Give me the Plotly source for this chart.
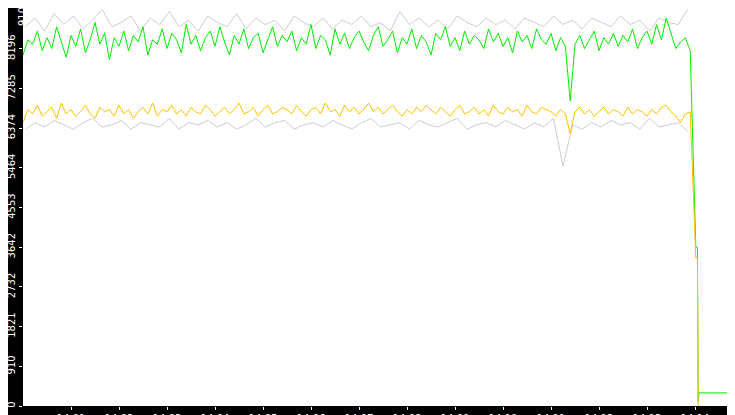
import plotly.graph_objects as go
import pandas as pd

green = [8050,8400,8300,8600,8150,8450,8200,8700,8350,8000,
8500,8250,8650,8100,8400,8800,8300,8550,7950,8450,
8250,8600,8150,8500,8350,8700,8050,8400,8300,8650,
8200,8550,8400,8100,8750,8300,8500,8150,8450,8600,
8250,8700,8350,8050,8500,8300,8650,8200,8450,8550,
8100,8400,8700,8250,8500,8350,8600,8150,8450,8300,
8750,8200,8500,8400,8050,8650,8300,8550,8200,8450,
8600,8350,8150,8500,8700,8250,8400,8600,8100,8450,
8300,8650,8200,8500,8350,8050,8550,8400,8700,8250,
8450,8150,8600,8300,8500,8400,8200,8650,8350,8550,
8250,8450,8100,8600,8350,8500,8200,8650,8400,8300,
8550,8150,8450,8250,7000,8300,8500,8200,8400,8600,
8150,8450,8300,8550,8250,8500,8350,8650,8200,8450,
8600,8300,8750,8400,8900,8550,8200,8350,8450,8150]
green_tail_t = ["14:14:01","14:14:03","14:14:04","14:14:05","14:15:00"]
green_tail = [3640, 3640, 100, 300, 300]

yellow = [6500,6800,6700,6900,6650,6750,6850,6600,6950,6700,
6800,6650,6750,6900,6700,6600,6850,6750,6800,6650,
6900,6700,6800,6600,6750,6850,6700,6950,6650,6800,
6750,6900,6700,6800,6650,6850,6750,6700,6900,6800,
6650,6750,6850,6700,6800,6950,6700,6750,6850,6650,
6800,6900,6700,6750,6850,6800,6700,6900,6750,6650,
6800,6850,6700,6950,6750,6800,6650,6900,6750,6850,
6700,6800,6950,6750,6850,6700,6800,6900,6750,6650,
6800,6700,6850,6750,6900,6800,6700,6850,6750,6650,
6800,6900,6700,6750,6850,6700,6800,6650,6900,6750,
6700,6850,6750,6800,6650,6900,6750,6700,6850,6800,
6750,6650,6800,6700,6250,6750,6850,6700,6800,6650,
6750,6850,6700,6800,6750,6650,6850,6700,6800,6750,
6650,6800,6700,6850,6900,6750,6650,6500,6700,6750]
yellow_tail_t = ["14:14:01","14:14:03","14:14:04"]
yellow_tail = [3400, 3400, 0]

gray_hi = [8700,8900,8600,9000,8750,8950,8650,8850,9100,8700,
8800,8950,8600,8900,8750,9050,8700,8850,8600,8950,
8800,8700,9000,8650,8900,8750,8850,8600,8950,8800,
8700,8900,8650,8850,8750,8950,8700,8800,8600,9050,
8750,8900,8700,8850,8650,8950,8800,8700,8900,8750,
8850,8650,8900,8800,8700,8950,8750,8850,8650,8900,
8800,8700,8950,8750,8850,8600,8900,8800,8750,9100]
gray_lo = [6350,6500,6400,6550,6450,6350,6500,6600,6400,6450,
6550,6350,6500,6450,6400,6600,6350,6500,6450,6550,
6400,6500,6350,6450,6600,6400,6500,6550,6350,6450,
6500,6400,6550,6450,6350,6500,6600,6400,6450,6500,
6350,6550,6450,6400,6500,6600,6350,6450,6500,6400,
6550,6450,6350,6500,6400,6600,5500,6450,6350,6500,
6400,6550,6450,6500,6350,6600,6400,6450,6500,6300]

ticks_y = [0,910,1821,2732,3642,4553,5464,6374,7285,8196,9107]
ticks_x = ["14:%02d" % m for m in range(1, 15)]

t0 = pd.Timestamp("2024-01-01 14:00:00")
t_main = [t0 + pd.Timedelta(seconds=6*i) for i in range(len(green))]
t_gray = [t0 + pd.Timedelta(seconds=12*i+3) for i in range(len(gray_hi))]
def tt(s): return pd.Timestamp("2024-01-01 " + s)

fig = go.Figure()
fig.add_trace(go.Scatter(x=t_gray, y=gray_hi, mode="lines", line=dict(color="#c0c0c0", width=0.8)))
fig.add_trace(go.Scatter(x=t_gray, y=gray_lo, mode="lines", line=dict(color="#c0c0c0", width=0.8)))
fig.add_trace(go.Scatter(x=t_main + [tt(s) for s in green_tail_t], y=green + green_tail, mode="lines",
                         line=dict(color="#00ee00", width=1)))
fig.add_trace(go.Scatter(x=t_main + [tt(s) for s in yellow_tail_t], y=yellow + yellow_tail, mode="lines",
                         line=dict(color="#ffc000", width=1)))

font = dict(family="DejaVu Sans", size=10, color="white")
fig.update_layout(width=735, height=415, showlegend=False,
    margin=dict(l=15, r=0, t=0, b=17),
    paper_bgcolor="black", plot_bgcolor="white",
    xaxis=dict(range=[t0, tt("14:15:00")], tickvals=[tt(s) for s in ticks_x], ticktext=ticks_x,
               showgrid=False, zeroline=False, ticks="outside", ticklen=3, automargin=False,
               tickcolor="white", tickfont=font, showline=False),
    yaxis=dict(range=[0, 9130], tickvals=ticks_y[:-1], ticktext=[str(v) for v in ticks_y[:-1]],
               tickangle=-90, showgrid=False, zeroline=False, ticks="outside", ticklen=3,
               automargin=False, tickcolor="white", tickfont=font, showline=False))
fig.add_annotation(x=0, xref="paper", xshift=-8, y=ticks_y[-1], yref="y", text=str(ticks_y[-1]),
                   textangle=-90, showarrow=False, font=font, yanchor="top", yshift=10)
fig.write_html("out.html")
